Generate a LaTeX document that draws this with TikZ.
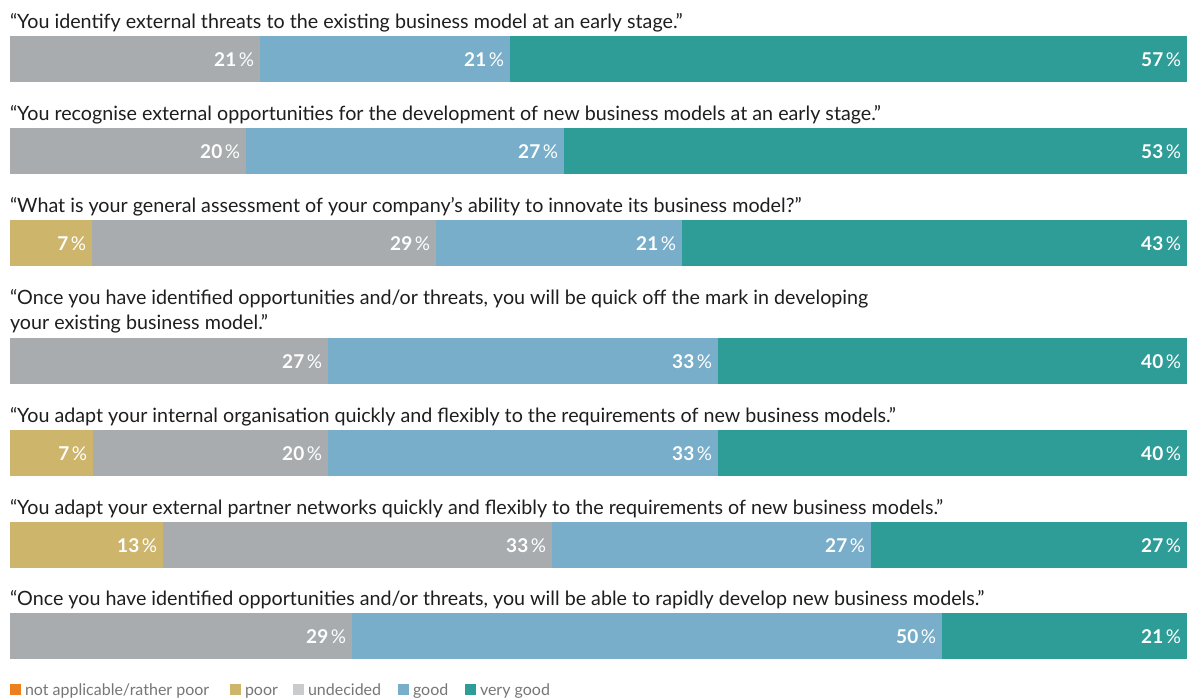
\documentclass[tikz,border=0pt]{standalone}
\usepackage{fontspec}
\setmainfont{Lato}
\definecolor{cgray}{HTML}{A8ACAF}
\definecolor{cblue}{HTML}{78AEC9}
\definecolor{cteal}{HTML}{2E9C97}
\definecolor{cgold}{HTML}{CEB56C}
\definecolor{corange}{HTML}{EF7E1F}
\definecolor{clight}{HTML}{C9CBCD}
\definecolor{ctext}{HTML}{1E1E1E}
\definecolor{clegend}{HTML}{767676}
\tikzset{
  segbox/.style={rectangle, draw=none, inner sep=0pt, outer sep=0pt, minimum height=46pt},
  pct/.style={inner sep=0pt, outer sep=0pt, text=white, font=\fontsize{19}{21}\selectfont},
  qlabel/.style={inner sep=0pt, outer sep=0pt, text=ctext, font=\fontsize{19.7}{24}\selectfont, anchor=base west},
  legsq/.style={rectangle, draw=none, inner sep=0pt, outer sep=0pt, minimum size=11pt, anchor=south west},
  legtext/.style={inner sep=0pt, outer sep=0pt, text=clegend, font=\fontsize{16}{18}\selectfont, anchor=base west}
}
\newcommand\seg[6]{%
  \node[segbox, fill=#5, minimum width={(#3-#2)*1pt}, anchor=north west] (#1) at (#2,#4) {};
  \node[pct, anchor=base east] (#1l) at ([xshift=-6pt,yshift=15.5pt]#1.south east) {\textbf{#6}\kern2.5pt\%};
}
\begin{document}
\begin{tikzpicture}[x=1pt,y=-1pt]
\useasboundingbox (0,0) rectangle (1187,699);
\fill[white] (0,0) rectangle (1187,699);

% Row 1
\node[qlabel] (q1) at (10,28) {“You identify external threats to the existing business model at an early stage.”};
\seg{a1}{10}{260}{36}{cgray}{21}
\seg{a2}{260}{510}{36}{cblue}{21}
\seg{a3}{510}{1187}{36}{cteal}{57}

% Row 2
\node[qlabel] (q2) at (10,120) {“You recognise external opportunities for the development of new business models at an early stage.”};
\seg{b1}{10}{246}{128}{cgray}{20}
\seg{b2}{246}{564}{128}{cblue}{27}
\seg{b3}{564}{1187}{128}{cteal}{53}

% Row 3
\node[qlabel] (q3) at (10,212) {“What is your general assessment of your company’s ability to innovate its business model?”};
\seg{c1}{10}{92}{220}{cgold}{7}
\seg{c2}{92}{436}{220}{cgray}{29}
\seg{c3}{436}{682}{220}{cblue}{21}
\seg{c4}{682}{1187}{220}{cteal}{43}

% Row 4
\node[qlabel] (q4a) at (10,304) {“Once you have identified opportunities and/or threats, you will be quick off the mark in developing};
\node[qlabel] (q4b) at (10,329) {your existing business model.”};
\seg{d1}{10}{328}{338}{cgray}{27}
\seg{d2}{328}{718}{338}{cblue}{33}
\seg{d3}{718}{1187}{338}{cteal}{40}

% Row 5
\node[qlabel] (q5) at (10,422) {“You adapt your internal organisation quickly and flexibly to the requirements of new business models.”};
\seg{e1}{10}{93}{430}{cgold}{7}
\seg{e2}{93}{328}{430}{cgray}{20}
\seg{e3}{328}{718}{430}{cblue}{33}
\seg{e4}{718}{1187}{430}{cteal}{40}

% Row 6
\node[qlabel] (q6) at (10,514) {“You adapt your external partner networks quickly and flexibly to the requirements of new business models.”};
\seg{f1}{10}{163}{522}{cgold}{13}
\seg{f2}{163}{552}{522}{cgray}{33}
\seg{f3}{552}{871}{522}{cblue}{27}
\seg{f4}{871}{1187}{522}{cteal}{27}

% Row 7
\node[qlabel] (q7) at (10,605) {“Once you have identified opportunities and/or threats, you will be able to rapidly develop new business models.”};
\seg{g1}{10}{352}{613}{cgray}{29}
\seg{g2}{352}{942}{613}{cblue}{50}
\seg{g3}{942}{1187}{613}{cteal}{21}

% Legend
\node[legsq, fill=corange] (l1) at (10,695) {};
\node[legtext] (t1) at (25,695) {not applicable/rather poor};
\node[legsq, fill=cgold] (l2) at (230,695) {};
\node[legtext] (t2) at (245,695) {poor};
\node[legsq, fill=clight] (l3) at (293,695) {};
\node[legtext] (t3) at (308,695) {undecided};
\node[legsq, fill=cblue] (l4) at (398,695) {};
\node[legtext] (t4) at (413,695) {good};
\node[legsq, fill=cteal] (l5) at (465,695) {};
\node[legtext] (t5) at (480,695) {very good};
\end{tikzpicture}
\end{document}
